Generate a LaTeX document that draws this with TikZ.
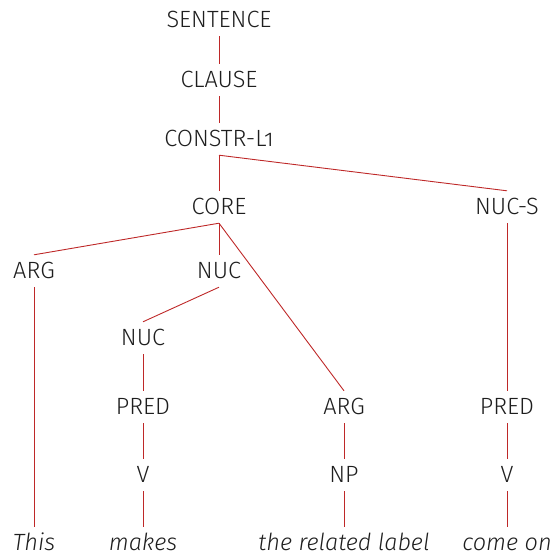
\documentclass[tikz,border=0pt]{standalone}
\usepackage{fontspec}
\setmainfont{Fira Sans}[UprightFont=* Light, ItalicFont=* Light Italic, Numbers=OldStyle]
\definecolor{edgered}{RGB}{190,40,40}
\definecolor{txt}{RGB}{30,30,30}
\begin{document}
\begin{tikzpicture}[x=1pt,y=-1pt,
  lab/.style={inner sep=0pt, text height=15.5pt, text depth=0pt, minimum height=32pt, font=\fontsize{23.5}{27}\selectfont, text=txt},
  word/.style={lab, font=\fontsize{23.5}{27}\selectfont\itshape},
  br/.style={draw=edgered, line width=0.9pt}]
\useasboundingbox (0,0) rectangle (553,559);
\node[lab] (s) at (219,20) {SENTENCE};
\node[lab] (cl) at (219,80) {CLAUSE};
\node[lab] (cs) at (219,139) {CONSTR-L1};
\node[lab] (core) at (219,207) {CORE};
\node[lab] (nucs) at (507,207) {NUC-S};
\node[lab] (arg1) at (34,271) {ARG};
\node[lab] (nuc1) at (219,271) {NUC};
\node[lab] (nuc2) at (143,338) {NUC};
\node[lab] (pred1) at (143,407) {PRED};
\node[lab] (v1) at (143,475) {V};
\node[lab] (arg2) at (344,407) {ARG};
\node[lab] (np) at (344,475) {NP};
\node[lab] (pred2) at (507,407) {PRED};
\node[lab] (v2) at (507,475) {V};
\node[word] (w1) at (34,543) {This};
\node[word] (w2) at (143,543) {makes};
\node[word] (w3) at (344,543) {the related label};
\node[word] (w4) at (507,543) {come on};
\draw[br] (s.south) -- (cl.north);
\draw[br] (cl.south) -- (cs.north);
\draw[br] (cs.south) -- (core.north);
\draw[br] (cs.south) -- (nucs.north);
\draw[br] (core.south) -- (arg1.north);
\draw[br] (core.south) -- (nuc1.north);
\draw[br] (core.south) -- (arg2.north);
\draw[br] (nuc1.south) -- (nuc2.north);
\draw[br] (nuc2.south) -- (pred1.north);
\draw[br] (pred1.south) -- (v1.north);
\draw[br] (v1.south) -- (w2.north);
\draw[br] (arg1.south) -- (w1.north);
\draw[br] (arg2.south) -- (np.north);
\draw[br] (np.south) -- (w3.north);
\draw[br] (nucs.south) -- (pred2.north);
\draw[br] (pred2.south) -- (v2.north);
\draw[br] (v2.south) -- (w4.north);
\end{tikzpicture}
\end{document}
